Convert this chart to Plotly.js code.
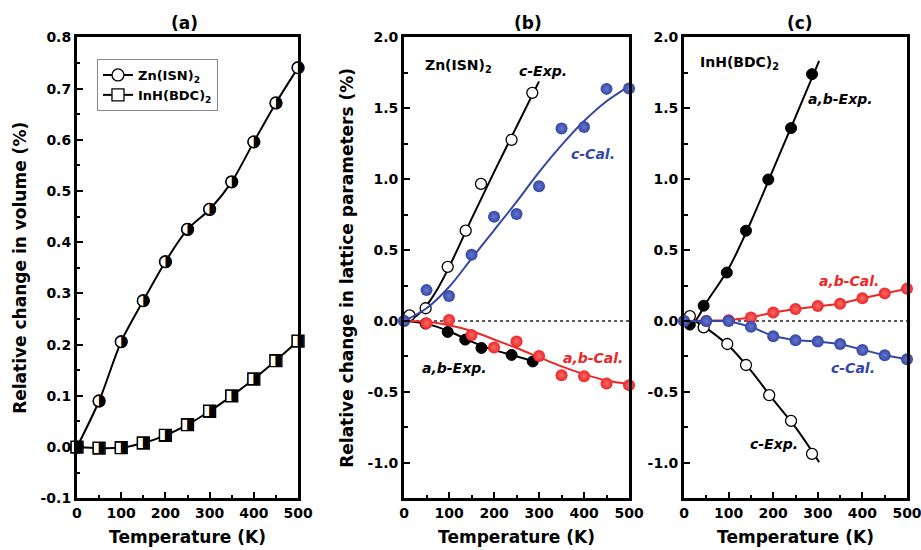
<!DOCTYPE html>
<html><head><meta charset="utf-8">
<script src="https://cdn.plot.ly/plotly-3.0.1.min.js"></script>
<style>html,body{margin:0;padding:0;background:#fff}</style>
</head><body><div id="chart" style="width:921px;height:550px"></div>
<script>
// ---------- data ----------
const xTicks = [0, 100, 200, 300, 400, 500];
const xTickText = ['0', '100', '200', '300', '400', '500'];
const yTicksA = [-0.1, 0.0, 0.1, 0.2, 0.3, 0.4, 0.5, 0.6, 0.7, 0.8];
const yTickTextA = ['-0.1', '0.0', '0.1', '0.2', '0.3', '0.4', '0.5', '0.6', '0.7', '0.8'];
const yTicksBC = [-1.0, -0.5, 0.0, 0.5, 1.0, 1.5, 2.0];
const yTickTextBC = ['-1.0', '-0.5', '0.0', '0.5', '1.0', '1.5', '2.0'];

// panel (a)
const tempA = [0, 50, 100, 150, 200, 250, 300, 350, 400, 450, 500];
const znVol = [0, 0.090, 0.206, 0.286, 0.362, 0.425, 0.464, 0.518, 0.596, 0.672, 0.741];
const inVol = [0, -0.002, -0.001, 0.008, 0.023, 0.044, 0.070, 0.100, 0.133, 0.169, 0.207];

// panel (b) Zn(ISN)2
const bCExpT = [12, 48, 97, 137, 171, 239, 285];
const bCExp = [0.04, 0.090, 0.382, 0.637, 0.967, 1.278, 1.609];
const bCExpFitT = [0, 25, 50, 75, 100, 150, 200, 250, 300];
const bCExpFit = [0, 0.03, 0.11, 0.23, 0.38, 0.72, 1.05, 1.37, 1.69];
const bABExpT = [48, 97, 136, 172, 239, 286];
const bABExp = [-0.018, -0.077, -0.131, -0.190, -0.239, -0.285];
const bABExpFitT = [0, 50, 100, 150, 200, 250, 295];
const bABExpFit = [0, -0.02, -0.072, -0.145, -0.205, -0.248, -0.292];
const tempCal = [0, 50, 100, 150, 200, 250, 300, 350, 400, 450, 500];
const bCCal = [0, 0.218, 0.176, 0.467, 0.736, 0.755, 0.950, 1.358, 1.368, 1.637, 1.639];
const bCCalFit = [0, 0.09, 0.24, 0.44, 0.64, 0.84, 1.05, 1.24, 1.41, 1.55, 1.655];
const bABCal = [0, -0.016, 0.007, -0.098, -0.187, -0.145, -0.246, -0.382, -0.389, -0.440, -0.452];
const bABCalFit = [0, -0.005, -0.03, -0.07, -0.13, -0.19, -0.255, -0.32, -0.375, -0.42, -0.445];

// panel (c) InH(BDC)2
const cABExpT = [13, 44, 96, 139, 189, 240, 287];
const cABExp = [-0.025, 0.108, 0.342, 0.637, 0.998, 1.361, 1.741];
const cABExpFitT = [10, 25, 50, 100, 150, 200, 250, 303];
const cABExpFit = [-0.03, 0.0, 0.13, 0.37, 0.70, 1.07, 1.44, 1.835];
const cCExpT = [13, 44, 97, 139, 191, 240, 287];
const cCExp = [0.034, -0.045, -0.162, -0.310, -0.523, -0.704, -0.937];
const cCExpFitT = [10, 25, 50, 100, 150, 200, 250, 303];
const cCExpFit = [0.04, 0.0, -0.05, -0.175, -0.35, -0.555, -0.75, -0.995];
const cABCal = [0, 0.0, 0.005, 0.025, 0.06, 0.085, 0.106, 0.122, 0.16, 0.195, 0.228];
const cCCal = [0, 0.0, 0.0, -0.04, -0.108, -0.135, -0.145, -0.162, -0.204, -0.242, -0.27];

// ---------- styles ----------
const FONT = 'DejaVu Sans, Liberation Sans, Arial, sans-serif';
const BLUE = '#3447a6', BLUE_HI = '#6676cc';
const RED = '#ee2626', RED_HI = '#f76a6a';
const YDOM = [0.094, 0.932];

function xAxis(domain, anchor) {
  return {
    domain: domain, anchor: anchor, range: [0, 500],
    tickmode: 'array', tickvals: xTicks, ticktext: xTickText,
    ticks: 'inside', ticklen: 6, tickwidth: 2, tickcolor: '#000',
    ticklabeloverflow: 'allow',
    minor: {tickmode: 'linear', tick0: 0, dtick: 50, ticks: 'inside', ticklen: 3.5, tickwidth: 2, tickcolor: '#000'},
    showline: true, linewidth: 3, linecolor: '#000', mirror: true,
    showgrid: false, zeroline: false,
    tickfont: {family: FONT, size: 14, color: '#000', weight: 'bold'},
    title: {text: 'Temperature (K)', standoff: 12, font: {family: FONT, size: 17, color: '#000', weight: 'bold'}}
  };
}
function yAxis(anchor, range, tv, tt, minorD, title) {
  const ax = {
    domain: YDOM, anchor: anchor, range: range,
    tickmode: 'array', tickvals: tv, ticktext: tt,
    ticks: 'inside', ticklen: 6, tickwidth: 2, tickcolor: '#000',
    minor: {tickmode: 'linear', tick0: 0, dtick: minorD, ticks: 'inside', ticklen: 3.5, tickwidth: 2, tickcolor: '#000'},
    showline: true, linewidth: 3, linecolor: '#000', mirror: true,
    showgrid: false, zeroline: false,
    tickfont: {family: FONT, size: 14, color: '#000', weight: 'bold'}
  };
  if (title) ax.title = {text: title, standoff: 10, font: {family: FONT, size: 17, color: '#000', weight: 'bold'}};
  return ax;
}

const traces = [];
function halfMarker(x, y, xa, ya, sym, glyph, name, legend) {
  traces.push({
    x: x, y: y, xaxis: xa, yaxis: ya, name: name, showlegend: legend,
    mode: 'lines+markers', type: 'scatter', cliponaxis: false,
    line: {color: '#000', width: 2, shape: 'spline', smoothing: 0.8},
    marker: {symbol: sym, size: 12, color: '#fff', line: {color: '#000', width: 1.3}}
  });
  traces.push({
    x: x, y: y, xaxis: xa, yaxis: ya, showlegend: false, hoverinfo: 'skip',
    mode: 'text', type: 'scatter', cliponaxis: false,
    text: x.map(() => glyph), textposition: 'middle center',
    textfont: {family: 'DejaVu Sans', size: 16, color: '#000'}
  });
}
function fitLine(x, y, xa, ya, color) {
  traces.push({x: x, y: y, xaxis: xa, yaxis: ya, showlegend: false, hoverinfo: 'skip',
    mode: 'lines', type: 'scatter', cliponaxis: false,
    line: {color: color, width: 2, shape: 'spline', smoothing: 1}});
}
function pts(x, y, xa, ya, marker, mode, lineColor) {
  const t = {x: x, y: y, xaxis: xa, yaxis: ya, showlegend: false,
    mode: mode, type: 'scatter', cliponaxis: false, marker: marker};
  if (lineColor) t.line = {color: lineColor, width: 2};
  traces.push(t);
}
const openC = {symbol: 'circle', size: 11, color: '#fff', line: {color: '#000', width: 1.3}};
const blackC = {symbol: 'circle', size: 11, color: '#000', line: {color: '#000', width: 1}};
const blueS = {symbol: 'circle', size: 12, color: BLUE, line: {width: 0}, gradient: {type: 'radial', color: BLUE_HI}};
const redS = {symbol: 'circle', size: 12, color: RED, line: {width: 0}, gradient: {type: 'radial', color: RED_HI}};

// (a)
halfMarker(tempA, znVol, 'x', 'y', 'circle', '\u25D1', 'Zn(ISN)<sub>2</sub>', true);
halfMarker(tempA, inVol, 'x', 'y', 'square', '\u25E8', 'InH(BDC)<sub>2</sub>', true);

// (b)
fitLine(bCExpFitT, bCExpFit, 'x2', 'y2', '#000');
pts(bCExpT, bCExp, 'x2', 'y2', openC, 'markers');
fitLine(bABExpFitT, bABExpFit, 'x2', 'y2', '#000');
pts(bABExpT, bABExp, 'x2', 'y2', blackC, 'markers');
fitLine(tempCal, bABCalFit, 'x2', 'y2', RED);
pts(tempCal, bABCal, 'x2', 'y2', redS, 'markers');
fitLine(tempCal, bCCalFit, 'x2', 'y2', BLUE);
pts(tempCal, bCCal, 'x2', 'y2', blueS, 'markers');

// (c)
fitLine(cABExpFitT, cABExpFit, 'x3', 'y3', '#000');
pts(cABExpT, cABExp, 'x3', 'y3', blackC, 'markers');
fitLine(cCExpFitT, cCExpFit, 'x3', 'y3', '#000');
pts(cCExpT, cCExp, 'x3', 'y3', openC, 'markers');
pts(tempCal, cABCal, 'x3', 'y3', redS, 'lines+markers', RED);
pts(tempCal, cCCal, 'x3', 'y3', blueS, 'lines+markers', BLUE);

function note(text, x, y, xref, yref, color, italic, anchor) {
  return {text: text, x: x, y: y, xref: xref, yref: yref, showarrow: false,
    xanchor: anchor || 'center', yanchor: 'middle',
    font: {family: FONT, size: 14, color: color, weight: 'bold', style: italic ? 'italic' : 'normal'}};
}
function panelTitle(text, x) {
  return {text: text, x: x, y: 0.959, xref: 'paper', yref: 'paper', showarrow: false,
    xanchor: 'center', yanchor: 'middle',
    font: {family: FONT, size: 17, color: '#000', weight: 'bold'}};
}

const layout = {
  width: 921, height: 550,
  margin: {l: 0, r: 0, t: 0, b: 0},
  paper_bgcolor: '#fff', plot_bgcolor: '#fff',
  font: {family: FONT, color: '#000'},
  showlegend: true,
  legend: {x: 0.1053, y: 0.8927, xanchor: 'left', yanchor: 'top', bgcolor: '#fff',
    bordercolor: '#8a8a8a', borderwidth: 1, tracegroupgap: 0, itemwidth: 30,
    font: {family: FONT, size: 13, color: '#000', weight: 'bold'}},
  xaxis: xAxis([0.0836, 0.3236], 'y'),
  yaxis: yAxis('x', [-0.1, 0.8], yTicksA, yTickTextA, 0.05, 'Relative change in volume (%)'),
  xaxis2: xAxis([0.4387, 0.6830], 'y2'),
  yaxis2: yAxis('x2', [-1.25, 2.0], yTicksBC, yTickTextBC, 0.25, 'Relative change in lattice parameters (%)'),
  xaxis3: xAxis([0.7427, 0.9848], 'y3'),
  yaxis3: yAxis('x3', [-1.25, 2.0], yTicksBC, yTickTextBC, 0.25, null),
  shapes: [
    {type: 'line', xref: 'x2 domain', yref: 'y2', x0: 0, x1: 1, y0: 0, y1: 0, layer: 'below',
     line: {color: '#222', width: 1.5, dash: 'dot'}},
    {type: 'line', xref: 'x3 domain', yref: 'y3', x0: 0, x1: 1, y0: 0, y1: 0, layer: 'below',
     line: {color: '#222', width: 1.5, dash: 'dot'}}
  ],
  annotations: [
    panelTitle('(a)', 184.5 / 921),
    panelTitle('(b)', 528 / 921),
    panelTitle('(c)', 800 / 921),
    note('Zn(ISN)<sub>2</sub>', 42, 1.796, 'x2', 'y2', '#000', false, 'left'),
    note('c-Exp.', 308, 1.76, 'x2', 'y2', '#000', true),
    note('c-Cal.', 421, 1.18, 'x2', 'y2', BLUE, true),
    note('a,b-Exp.', 112, -0.33, 'x2', 'y2', '#000', true),
    note('a,b-Cal.', 419, -0.26, 'x2', 'y2', RED, true),
    note('InH(BDC)<sub>2</sub>', 31, 1.817, 'x3', 'y3', '#000', false, 'left'),
    note('a,b-Exp.', 352, 1.563, 'x3', 'y3', '#000', true),
    note('a,b-Cal.', 370, 0.28, 'x3', 'y3', RED, true),
    note('c-Cal.', 380, -0.33, 'x3', 'y3', BLUE, true),
    note('c-Exp.', 202, -0.866, 'x3', 'y3', '#000', true)
  ]
};

Plotly.newPlot('chart', traces, layout, {staticPlot: true, displayModeBar: false});
</script></body></html>
